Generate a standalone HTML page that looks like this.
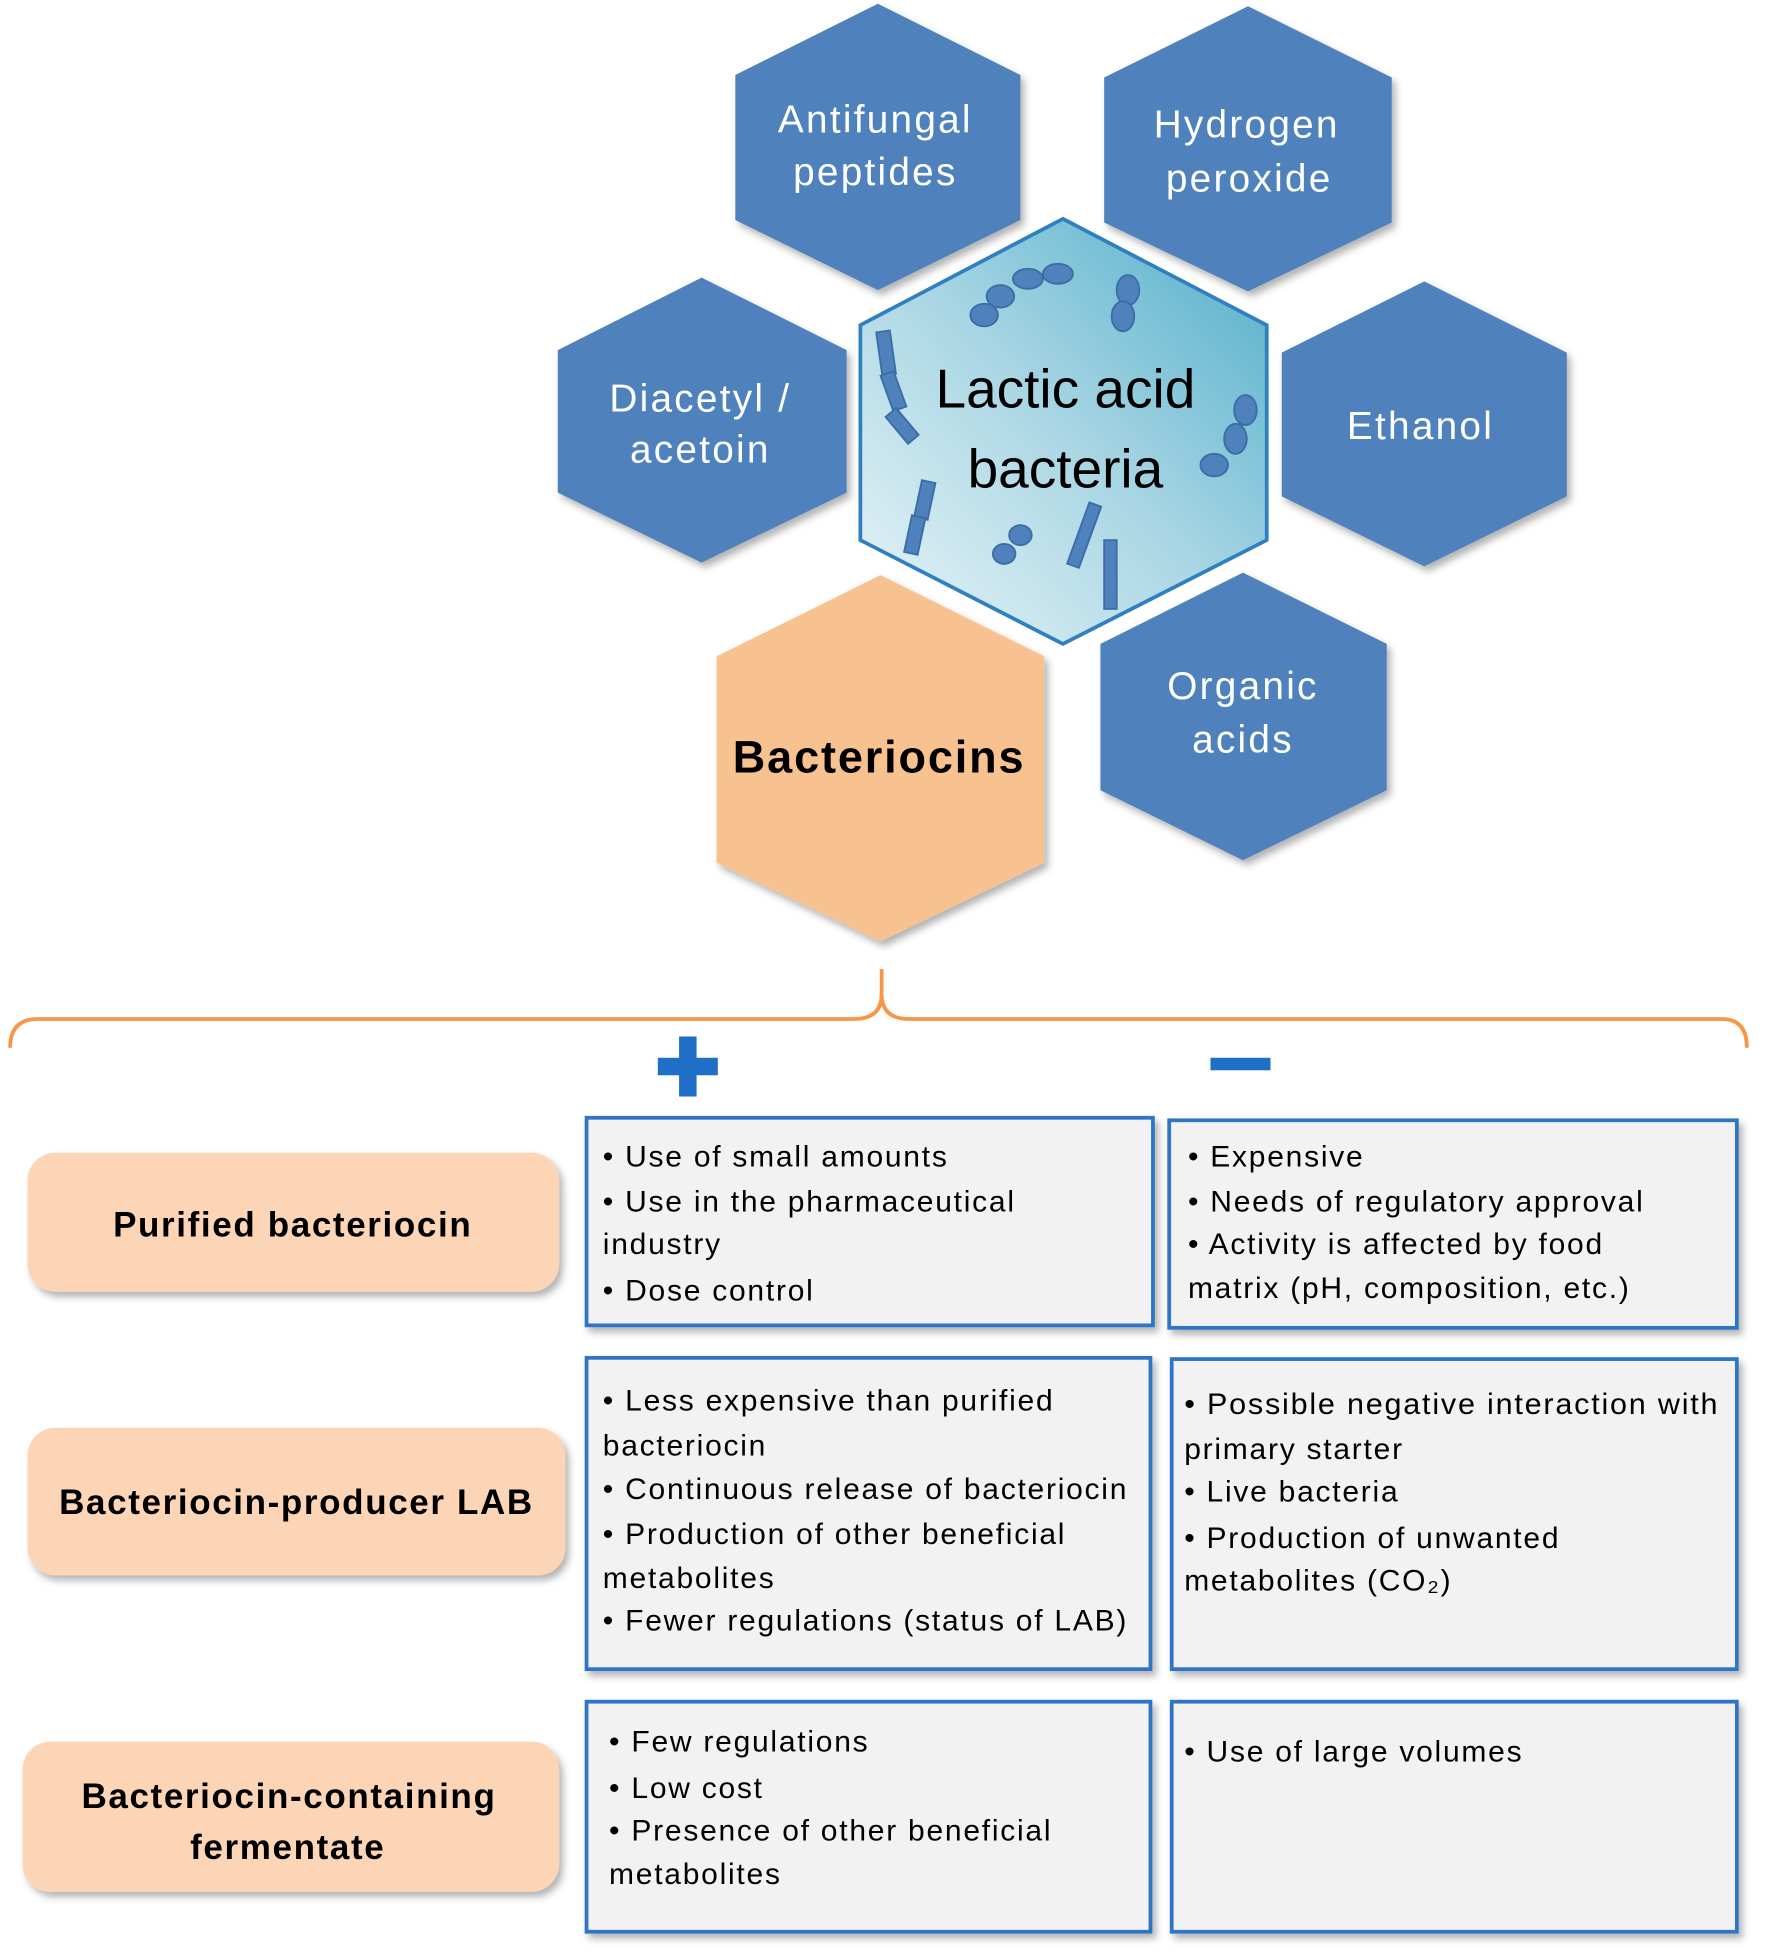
<!DOCTYPE html>
<html><head><meta charset="utf-8"><style>
html,body{margin:0;padding:0;background:#fff}
svg{display:block}
text{font-family:"Liberation Sans",sans-serif}
</style></head><body>
<svg width="1772" height="1958" viewBox="0 0 1417 1566" xmlns="http://www.w3.org/2000/svg">
<defs>
<linearGradient id="g" x1="0" y1="1" x2="1" y2="0">
<stop offset="0" stop-color="#eaf5f9"/><stop offset="0.5" stop-color="#a9d6e4"/><stop offset="1" stop-color="#4fadc9"/>
</linearGradient>
<filter id="sh" x="-10%" y="-10%" width="130%" height="130%"><feDropShadow dx="3" dy="4" stdDeviation="3" flood-color="#000" flood-opacity="0.3"/></filter>
</defs>
<g fill="#4f81bd" filter="url(#sh)">
<polygon points="702,3 816,60 816,176 702,232 588,176 588,60"/>
<polygon points="998,5 1113,62 1113,178 998,233 883,178 883,62"/>
<polygon points="561,222 677,280 677,394 561,450 446,394 446,280"/>
<polygon points="1139,225 1253,282 1253,397 1139,453 1025,397 1025,282"/>
<polygon points="994,458 1109,515 1109,632 994,688 880,632 880,515"/>
<polygon fill="#f8c190" points="704,460 835,525 835,690 704,753 573,690 573,525"/>
</g>
<polygon points="850,175 1013,260 1013,432 850,515 688,432 688,260" fill="url(#g)" stroke="#2f7fc1" stroke-width="3"/>
<g fill="#4f81bd" stroke="#3a6ea5" stroke-width="1.5">
<ellipse cx="787" cy="252" rx="11" ry="9"/><ellipse cx="800" cy="237" rx="11" ry="9"/><ellipse cx="822" cy="223" rx="12" ry="8"/><ellipse cx="846" cy="219" rx="12" ry="8"/>
<ellipse cx="902" cy="232" rx="9" ry="12"/><ellipse cx="898" cy="253" rx="9" ry="12"/>
<rect x="703" y="265" width="11" height="35" transform="rotate(-8 708 282)"/><rect x="709" y="298" width="11" height="30" transform="rotate(-20 714 313)"/><rect x="716" y="327" width="11" height="28" transform="rotate(-40 721 341)"/>
<ellipse cx="996" cy="328" rx="9" ry="12"/><ellipse cx="988" cy="351" rx="9" ry="12"/><ellipse cx="971" cy="372" rx="11" ry="9"/>
<rect x="734" y="385" width="11" height="30" transform="rotate(12 740 400)"/><rect x="726" y="413" width="11" height="30" transform="rotate(12 732 428)"/>
<ellipse cx="816" cy="428" rx="9" ry="8"/><ellipse cx="803" cy="443" rx="9" ry="8"/>
<rect x="862" y="402" width="10" height="52" transform="rotate(20 867 428)"/><rect x="883" y="432" width="10" height="55"/>
</g>
<g fill="#fff" font-size="31" text-anchor="middle" letter-spacing="1.8">
<text x="700" y="106">Antifungal</text><text x="700" y="148">peptides</text>
<text x="997" y="110">Hydrogen</text><text x="999" y="153">peroxide</text>
<text x="560" y="329">Diacetyl /</text><text x="560" y="370">acetoin</text>
<text x="1136" y="351">Ethanol</text>
<text x="994" y="559">Organic</text><text x="994" y="602">acids</text>
</g>
<text x="852" y="326" font-size="44" text-anchor="middle" fill="#000">Lactic acid</text>
<text x="852" y="390" font-size="44" text-anchor="middle" fill="#000">bacteria</text>
<text x="703" y="618" font-size="36" font-weight="bold" text-anchor="middle" fill="#000" letter-spacing="1.5">Bacteriocins</text>
<path d="M8,838 Q8,815 30,815 L683,815 Q705,815 705,795 L705,775 M705,795 Q705,815 727,815 L1377,815 Q1397,815 1397,838" fill="none" stroke="#f79646" stroke-width="3"/>
<rect x="526" y="846" width="48" height="14" fill="#1f6fc6"/><rect x="543" y="829" width="14" height="48" fill="#1f6fc6"/>
<rect x="968" y="846" width="48" height="10" fill="#1f6fc6"/>
<g fill="#fbd5b5" filter="url(#sh)">
<rect x="22" y="922" width="425" height="111" rx="22"/>
<rect x="22" y="1142" width="430" height="118" rx="22"/>
<rect x="18" y="1393" width="429" height="120" rx="22"/>
</g>
<g font-weight="bold" font-size="28" text-anchor="middle" fill="#000" letter-spacing="1.3">
<text x="234" y="989">Purified bacteriocin</text>
<text x="237" y="1211">Bacteriocin-producer LAB</text>
<text x="231" y="1446">Bacteriocin-containing</text><text x="230" y="1487">fermentate</text>
</g>
<g fill="#f2f2f2" stroke="#2e75c5" stroke-width="3" filter="url(#sh)">
<rect x="469" y="894" width="453" height="166"/>
<rect x="935" y="896" width="454" height="166"/>
<rect x="469" y="1086" width="451" height="249"/>
<rect x="937" y="1087" width="452" height="248"/>
<rect x="469" y="1361" width="451" height="184"/>
<rect x="937" y="1361" width="452" height="184"/>
</g>
<g font-size="24" fill="#000" letter-spacing="1.4">
<text x="482" y="933">• Use of small amounts</text>
<text x="482" y="969">• Use in the pharmaceutical</text>
<text x="482" y="1003">industry</text>
<text x="482" y="1040">• Dose control</text>
<text x="950" y="933">• Expensive</text>
<text x="950" y="969">• Needs of regulatory approval</text>
<text x="950" y="1003">• Activity is affected by food</text>
<text x="950" y="1038">matrix (pH, composition, etc.)</text>
<text x="482" y="1128">• Less expensive than purified</text>
<text x="482" y="1164">bacteriocin</text>
<text x="482" y="1199">• Continuous release of bacteriocin</text>
<text x="482" y="1235">• Production of other beneficial</text>
<text x="482" y="1270">metabolites</text>
<text x="482" y="1304">• Fewer regulations (status of LAB)</text>
<text x="947" y="1131" textLength="428" lengthAdjust="spacingAndGlyphs">• Possible negative interaction with</text>
<text x="947" y="1167">primary starter</text>
<text x="947" y="1201">• Live bacteria</text>
<text x="947" y="1238">• Production of unwanted</text>
<text x="947" y="1272">metabolites (CO₂)</text>
<text x="487" y="1401">• Few regulations</text>
<text x="487" y="1438">• Low cost</text>
<text x="487" y="1472">• Presence of other beneficial</text>
<text x="487" y="1507">metabolites</text>
<text x="947" y="1409">• Use of large volumes</text>
</g>
</svg>
</body></html>
